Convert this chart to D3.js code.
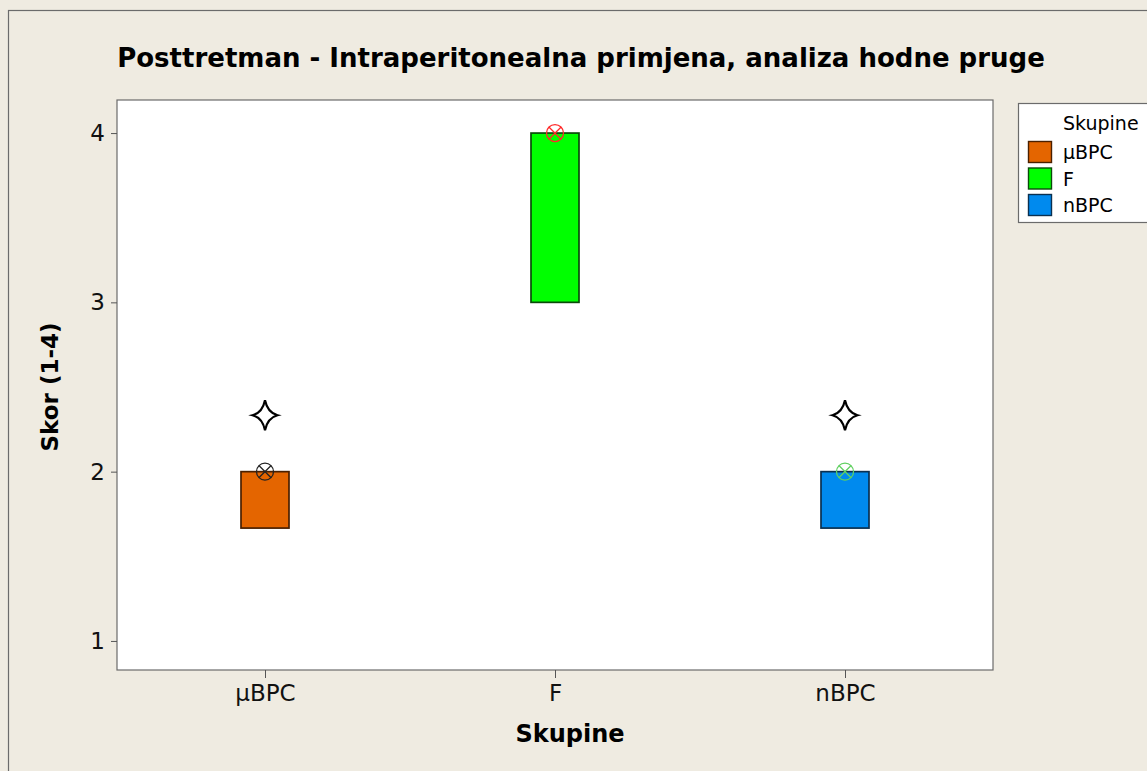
<!DOCTYPE html>
<html>
<head>
<meta charset="utf-8">
<script src="https://cdn.jsdelivr.net/npm/d3@7"></script>
<style>
  body { margin: 0; background: #EFEBE1; }
  svg { display: block; font-family: Tahoma, "DejaVu Sans", Verdana, sans-serif; }
</style>
</head>
<body>
<svg class="chart"></svg>
<script>
// data
const groups = ['μBPC', 'F', 'nBPC']
const q1 = [1.6667, 3, 1.6667]
const q3 = [2, 4, 2]
const medians = [2, 4, 2]
const outliers = [[2.3333], [], [2.3333]]
const fills = ['#E46500', '#00FF00', '#008AEE']
const strokes = ['#4a2000', '#0a4a0a', '#0a3050']
const medianColors = ['#222222', '#ff2a2a', '#60d060']
const yTicks = [1, 2, 3, 4]

const width = 1147, height = 771
const plot = { left: 117, right: 993, top: 100, bottom: 670 }

const svg = d3.select('.chart')
  .attr('width', width)
  .attr('height', height)

// outer frame
svg.append('rect')
  .attr('x', 8.5).attr('y', 10.5)
  .attr('width', width).attr('height', height)
  .attr('fill', '#EFEBE1')
  .attr('stroke', '#6b6b6b')
  .attr('stroke-width', 1.2)

const x = d3.scalePoint()
  .domain(groups)
  .range([265, 845])

const y = d3.scaleLinear()
  .domain([0.8284, 4.1953])
  .range([plot.bottom, plot.top])

svg.append('rect')
  .attr('x', plot.left).attr('y', plot.top)
  .attr('width', plot.right - plot.left)
  .attr('height', plot.bottom - plot.top)
  .attr('fill', '#ffffff')
  .attr('stroke', '#6b6b6b')
  .attr('stroke-width', 1.2)

const yAxis = svg.append('g')
  .attr('transform', `translate(${plot.left},0)`)
  .call(d3.axisLeft(y).tickValues(yTicks).tickFormat(d3.format('d')).tickSize(6).tickSizeOuter(0).tickPadding(6))
yAxis.select('.domain').remove()
yAxis.selectAll('text').attr('font-size', 23).attr('fill', '#111').attr('font-family', 'Tahoma, "DejaVu Sans", sans-serif')
yAxis.selectAll('line').attr('stroke', '#555')

const xAxis = svg.append('g')
  .attr('transform', `translate(0,${plot.bottom})`)
  .call(d3.axisBottom(x).tickSize(8).tickSizeOuter(0).tickPadding(7))
xAxis.select('.domain').remove()
xAxis.selectAll('text').attr('font-size', 23).attr('fill', '#111').attr('font-family', 'Tahoma, "DejaVu Sans", sans-serif')
xAxis.selectAll('line').attr('stroke', '#555')

// title and axis labels
svg.append('text')
  .attr('x', 581).attr('y', 67)
  .attr('text-anchor', 'middle')
  .attr('font-size', 26).attr('font-weight', 'bold')
  .text('Posttretman - Intraperitonealna primjena, analiza hodne pruge')

svg.append('text')
  .attr('x', 570).attr('y', 742)
  .attr('text-anchor', 'middle')
  .attr('font-size', 24).attr('font-weight', 'bold')
  .text('Skupine')

svg.append('text')
  .attr('transform', `translate(58,387) rotate(-90)`)
  .attr('text-anchor', 'middle')
  .attr('font-size', 23).attr('font-weight', 'bold')
  .text('Skor (1-4)')

// boxes
const boxW = 48
const boxes = svg.append('g').selectAll('g')
  .data(groups)
  .enter().append('g')

boxes.append('rect')
  .attr('x', d => x(d) - boxW / 2)
  .attr('y', (d, i) => y(q3[i]))
  .attr('width', boxW)
  .attr('height', (d, i) => y(q1[i]) - y(q3[i]))
  .attr('fill', (d, i) => fills[i])
  .attr('stroke', (d, i) => strokes[i])
  .attr('stroke-width', 1.7)

// median symbol: circle with x
const r = 8.5
boxes.each(function(d, i) {
  const g = d3.select(this)
  const cx = x(d), cy = y(medians[i])
  const c = medianColors[i]
  g.append('circle').attr('cx', cx).attr('cy', cy).attr('r', r)
    .attr('fill', 'none').attr('stroke', c).attr('stroke-width', 1.3)
  const k = r * 0.72
  g.append('path')
    .attr('d', `M${cx - k},${cy - k}L${cx + k},${cy + k}M${cx - k},${cy + k}L${cx + k},${cy - k}`)
    .attr('stroke', c).attr('stroke-width', 1.3)
})

// outliers: four pointed star
const starPath = (sx, sy) => {
  const w = 12.5, h = 15, s = 2.6
  return `M${sx},${sy - h}Q${sx + s},${sy - s} ${sx + w},${sy}` +
    `Q${sx + s},${sy + s} ${sx},${sy + h}` +
    `Q${sx - s},${sy + s} ${sx - w},${sy}` +
    `Q${sx - s},${sy - s} ${sx},${sy - h}Z`
}
groups.forEach((g, i) => {
  outliers[i].forEach(v => {
    svg.append('path')
      .attr('d', starPath(x(g), y(v)))
      .attr('fill', '#fff')
      .attr('stroke', '#000')
      .attr('stroke-width', 2.2)
  })
})

// legend
const legend = svg.append('g').attr('transform', 'translate(1018,103)')
legend.append('rect')
  .attr('x', 0.5).attr('y', 0.5)
  .attr('width', 140).attr('height', 119)
  .attr('fill', '#fff')
  .attr('stroke', '#6b6b6b')
  .attr('stroke-width', 1.2)
legend.append('text')
  .attr('x', 45).attr('y', 27)
  .attr('font-size', 19)
  .text('Skupine')
const items = legend.selectAll('.item')
  .data(groups)
  .enter().append('g')
  .attr('class', 'item')
  .attr('transform', (d, i) => `translate(0,${49 + i * 26.5})`)
items.append('rect')
  .attr('x', 10.5).attr('y', -10.5)
  .attr('width', 23).attr('height', 21)
  .attr('fill', (d, i) => fills[i])
  .attr('stroke', (d, i) => strokes[i])
  .attr('stroke-width', 1.4)
items.append('text')
  .attr('x', 45).attr('y', 7)
  .attr('font-size', 19)
  .text(d => d)
</script>
</body>
</html>
